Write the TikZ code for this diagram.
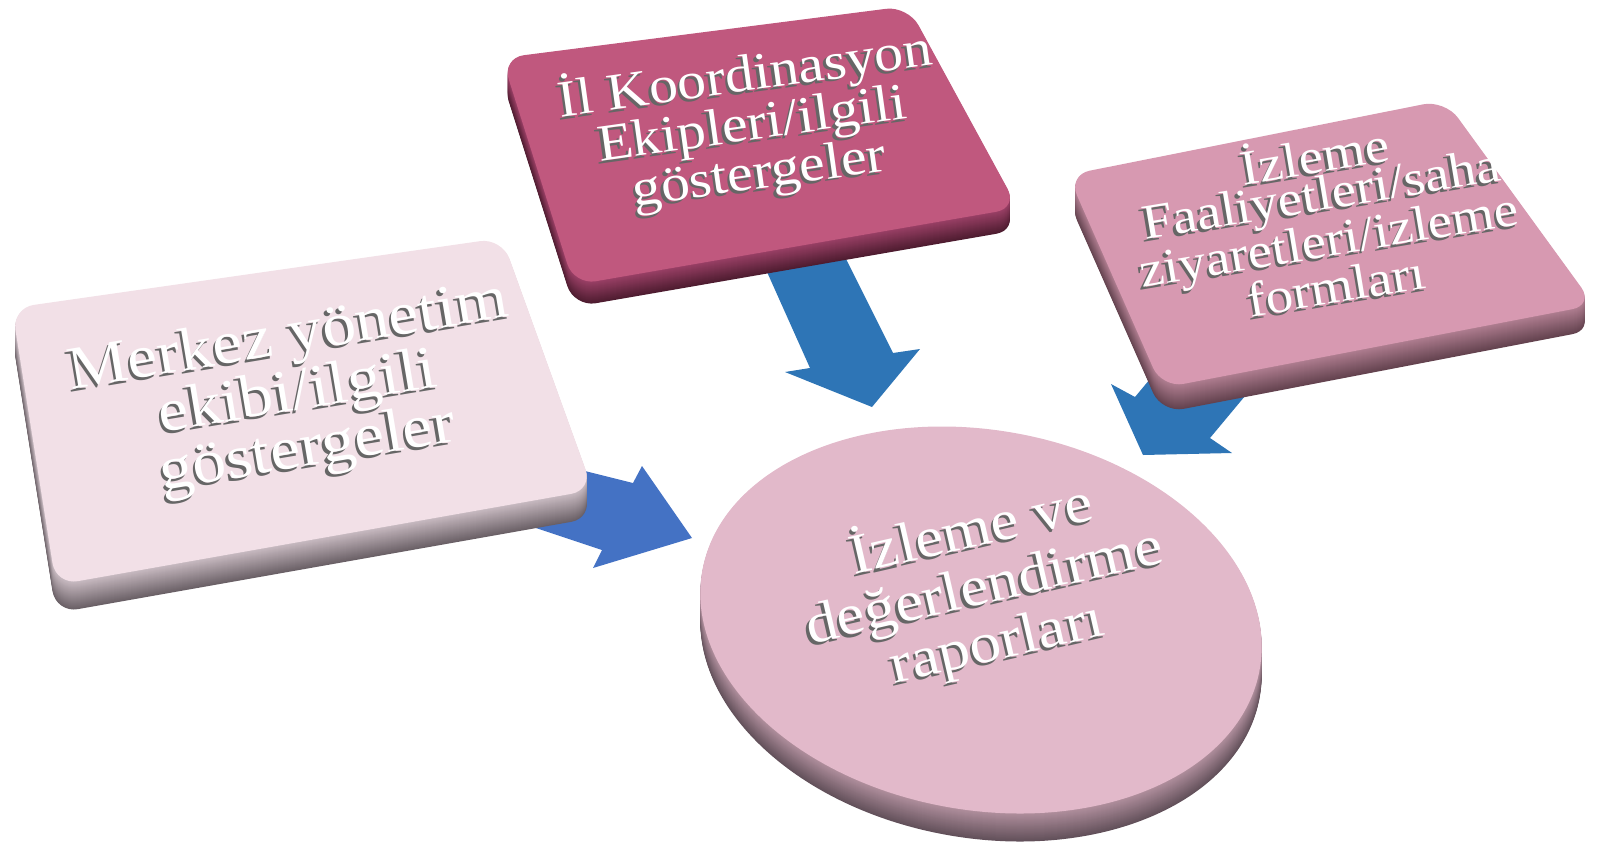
\documentclass[tikz,border=0pt]{standalone}
\usepackage{fontspec}
\setmainfont{Liberation Serif}
\definecolor{leftTop}{HTML}{F2E0E7}
\definecolor{leftSideL}{HTML}{C9BBC2}
\definecolor{leftSideD}{HTML}{6A6066}
\definecolor{midTop}{HTML}{C0587E}
\definecolor{midSideL}{HTML}{9A4066}
\definecolor{midSideD}{HTML}{4E1C30}
\definecolor{rightTop}{HTML}{D799B1}
\definecolor{rightSideL}{HTML}{B07E91}
\definecolor{rightSideD}{HTML}{64434F}
\definecolor{diskTop}{HTML}{E2B9CA}
\definecolor{diskSideL}{HTML}{B08F9D}
\definecolor{diskSideD}{HTML}{62505A}
\definecolor{blueA}{HTML}{2E75B6}
\definecolor{blueB}{HTML}{4472C4}
\definecolor{shadowgray}{HTML}{666666}
\tikzset{
  emb/.style={text=white, align=center, inner sep=0pt, transform shape},
  embshadow/.style={text=shadowgray, align=center, inner sep=0pt, transform shape},
  blockarrow/.style={fill=#1, draw=none},
}
% #1..#4 corners, #5 top colour, #6 side light, #7 side dark, #8 thickness
\newcommand\myslab[8]{%
  \foreach \k in {#8,...,1}{%
    \pgfmathtruncatemacro\mixv{100*\k/#8}%
    \fill[#7!\mixv!#6, rounded corners=11pt, yshift=-\k*0.5pt] #1 -- #2 -- #3 -- #4 -- cycle;
  }%
  \fill[#5, rounded corners=11pt] #1 -- #2 -- #3 -- #4 -- cycle;
}
% #1 name, #2 position, #3 angle, #4 font size, #5 skip, #6 text
\newcommand\embtext[6]{%
  \node[embshadow, rotate=#3, yscale=0.9, font=\fontsize{#4}{#5}\selectfont, xshift=-1.4pt, yshift=-1.4pt] (#1s) at #2 {#6};
  \node[emb, rotate=#3, yscale=0.9, font=\fontsize{#4}{#5}\selectfont] (#1) at #2 {#6};
}
\begin{document}
\begin{tikzpicture}[x=0.5pt,y=-0.5pt]
\useasboundingbox (0,0) rectangle (1597,847);
% disk
\foreach \k in {28,...,1}{%
  \pgfmathtruncatemacro\mixv{100*\k/28}%
  \fill[diskSideD!\mixv!diskSideL, shift={(981,620)}, yshift=-\k*0.5pt, rotate=-10] (0,0) ellipse [x radius=141.5pt, y radius=95pt];
}
\fill[diskTop, shift={(981,620)}, rotate=-10] (0,0) ellipse [x radius=141.5pt, y radius=95pt];
% arrows
\fill[blockarrow=blueA] (746,225) -- (810,368) -- (785,372) -- (872,407) -- (920,349) -- (893,353) -- (823,213) -- cycle;
\fill[blockarrow=blueA] (1185,337) -- (1135,397) -- (1111,384) -- (1143,455) -- (1232,453) -- (1210,438) -- (1260,378) -- cycle;
\fill[blockarrow=blueB] (533,458) -- (633,483) -- (642,466) -- (692,538) -- (593,568) -- (602,550) -- (518,522) -- cycle;
% slabs
\myslab{(12,308)}{(502,238)}{(593,490)}{(56,585)}{leftTop}{leftSideL}{leftSideD}{28}
\myslab{(502,58)}{(908,6)}{(1018,208)}{(574,285)}{midTop}{midSideL}{midSideD}{22}
\myslab{(1068,175)}{(1445,100)}{(1594,305)}{(1162,388)}{rightTop}{rightSideL}{rightSideD}{25}
% texts
\embtext{t1}{(298,395)}{9.5}{33.8pt}{23.3pt}{Merkez yönetim\\ekibi/ilgili\\göstergeler}
\embtext{t2}{(752,124)}{8}{28.9pt}{20.6pt}{İl Koordinasyon\\Ekipleri/ilgili\\göstergeler}
\embtext{t3}{(1325,218)}{9.5}{27.4pt}{20.8pt}{İzleme\\Faaliyetleri/saha\\ziyaretleri/izleme\\formları}
\embtext{t4}{(984,586)}{13}{31.6pt}{32pt}{İzleme ve\\değerlendirme\\raporları}
\end{tikzpicture}
\end{document}
